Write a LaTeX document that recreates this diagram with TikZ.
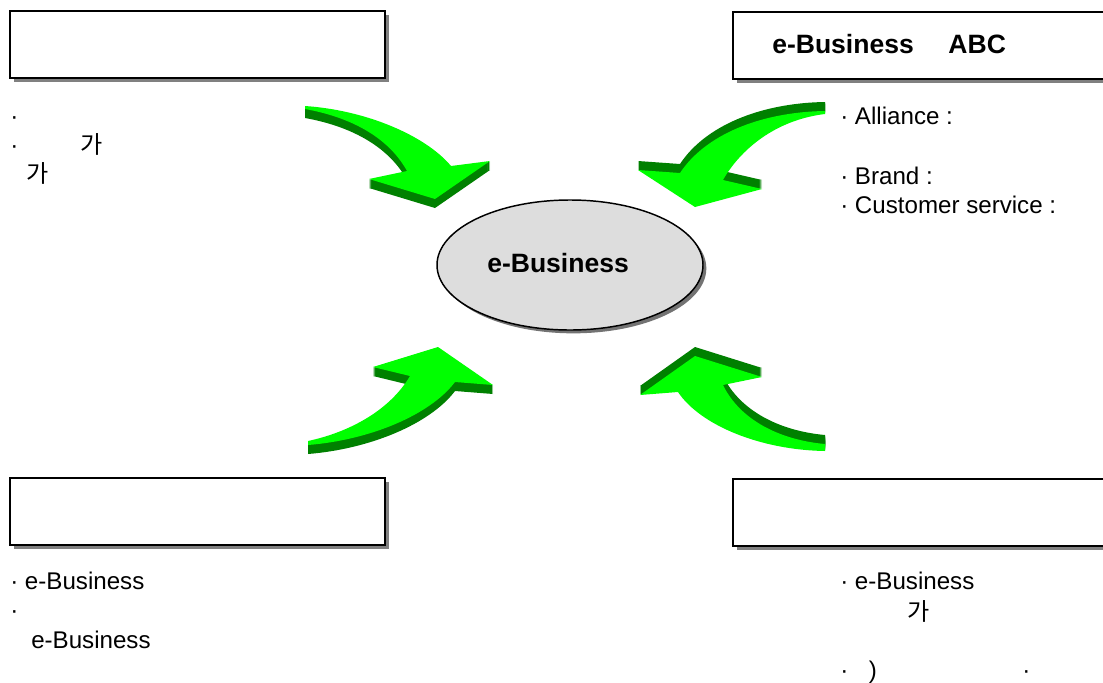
\documentclass[tikz,border=0pt]{standalone}
\usepackage{fontspec}
\setmainfont{Liberation Sans}
\newfontfamily\kr{Noto Sans CJK KR}
\usetikzlibrary{shapes.geometric,shadows}
\definecolor{ltgreen}{HTML}{00FF00}
\definecolor{dkgreen}{HTML}{008000}
\definecolor{ellfill}{HTML}{DDDDDD}
\begin{document}
\begin{tikzpicture}[x=0.75pt,y=-0.75pt,
  box/.style={draw=black,line width=1.5pt,fill=white,inner sep=0pt,
    drop shadow={shadow xshift=3pt,shadow yshift=-3pt,fill=black!50,opacity=1}},
  txt/.style={anchor=base west,inner sep=0pt,font=\fontsize{18.1}{21}\selectfont},
  btxt/.style={anchor=base west,inner sep=0pt,font=\fontsize{19.9}{23}\selectfont\bfseries},
  face/.style={fill=ltgreen},
  side/.style={fill=dkgreen}]
\clip (0,0) rectangle (1103,682);
\fill[white] (0,0) rectangle (1103,682);

% boxes
\node[box,minimum width=281.25pt,minimum height=50.25pt] (tl) at (197.5,44.5) {};
\node[box,minimum width=300pt,minimum height=50.25pt,anchor=north west] (tr) at (732,11) {};
\node[box,minimum width=281.25pt,minimum height=50.25pt] (bl) at (197.5,511.5) {};
\node[box,minimum width=300pt,minimum height=50.25pt,anchor=north west] (br) at (732,478) {};

% central ellipse
\node[ellipse,draw=black,line width=1.1pt,fill=ellfill,minimum width=199.5pt,minimum height=97.5pt,inner sep=0pt,
  drop shadow={shadow xshift=2.5pt,shadow yshift=-2.5pt,fill=black!55,opacity=1}] (core) at (570,265) {};
\node[btxt] (coretxt) at (487,272) {e-Business};

% heading
\node[btxt] (head) at (772,53) {e-Business\hspace{26pt}ABC};

% texts top-left
\node[txt] (tl1) at (10,124) {·};
\node[txt] (tl2) at (10,153) {·\hspace{46.5pt}{\kr 가}};
\node[txt] (tl3) at (26,182) {{\kr 가}};

% texts top-right
\node[txt] (tr1) at (840,124) {· Alliance :};
\node[txt] (tr2) at (840,184) {· Brand :};
\node[txt] (tr3) at (840,213) {· Customer service :};

% texts bottom-left
\node[txt] (bl1) at (10,589) {· e-Business};
\node[txt] (bl2) at (10,618) {·};
\node[txt] (bl3) at (31,648) {e-Business};

% texts bottom-right
\node[txt] (br1) at (840,589) {· e-Business};
\node[txt] (br2) at (907,620) {{\kr 가}};
\node[txt] (br3) at (840,678) {·\hspace{15.5pt})};
\node[txt] (br4) at (1022,678) {·};

% arrows
\def\arrowTL{(305,106) .. controls (365,110) and (425,135) .. (451,166) -- (490,161) -- (435,199) -- (369,179) -- (407,171) .. controls (390,140) and (355,118) .. (305,109) -- cycle}
\def\arrowTR{(825,111) .. controls (760,112) and (705,135) .. (680,173) -- (638,170) -- (695,207) -- (762,189) -- (723,180) .. controls (740,150) and (775,120) .. (825,114) -- cycle}
\def\arrowBL{(308,441) .. controls (350,432) and (390,410) .. (410,376) -- (373,367) -- (438,347) -- (493,385) -- (455,382) .. controls (430,415) and (370,440) .. (308,445) -- cycle}
\def\arrowBR{(825,444) .. controls (780,440) and (740,420) .. (723,385) -- (762,377) -- (695,356) -- (640,395) -- (678,392) .. controls (700,425) and (760,450) .. (825,451) -- cycle}

\foreach \k in {1,...,9}{
  \fill[side,yshift=-\k*0.75pt] \arrowTL;
  \fill[side,yshift=-\k*0.75pt] \arrowBL;
  \fill[side,yshift=\k*0.75pt] \arrowTR;
  \fill[side,yshift=\k*0.75pt] \arrowBR;
}
\fill[face] \arrowTL;
\fill[face] \arrowBL;
\fill[face] \arrowTR;
\fill[face] \arrowBR;
\end{tikzpicture}
\end{document}
